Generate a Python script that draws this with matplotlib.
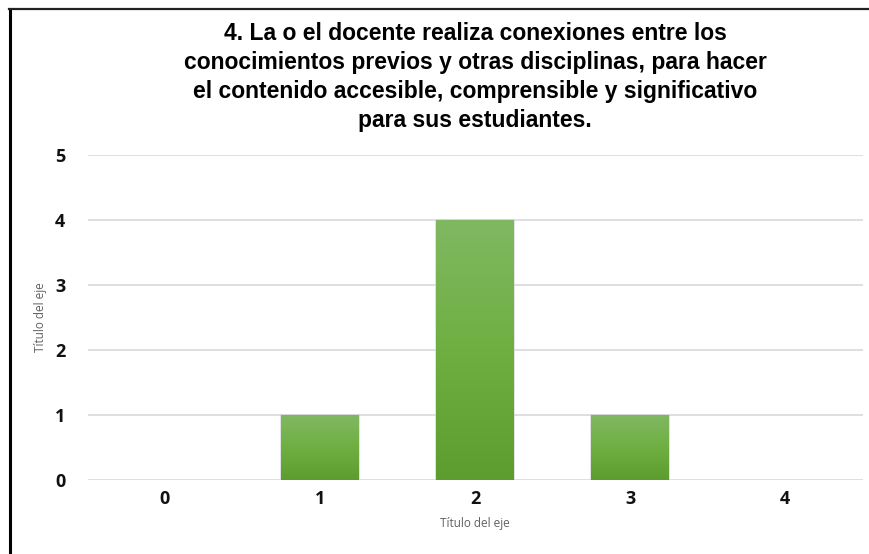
import matplotlib.pyplot as plt
import numpy as np
from matplotlib.lines import Line2D
from matplotlib.colors import LinearSegmentedColormap

plt.rcParams['font.family'] = ['Open Sans', 'DejaVu Sans']

categories = [0, 1, 2, 3, 4]
values = [0, 1, 4, 1, 0]
yticks = [0, 1, 2, 3, 4, 5]

title = ("4. La o el docente realiza conexiones entre los\n"
         "conocimientos previos y otras disciplinas, para hacer\n"
         "el contenido accesible, comprensible y significativo\n"
         "para sus estudiantes.")

fig = plt.figure(figsize=(8.69, 5.54), dpi=100)
ax = fig.add_axes([87.5 / 869, 1 - 480 / 554, 775 / 869, 325 / 554])

green = LinearSegmentedColormap.from_list('g', ['#5d9c2f', '#6faf41', '#80b862'])
grad = np.linspace(0, 1, 256).reshape(-1, 1)

bars = ax.bar(categories, values, width=0.5, color='none', edgecolor='none', zorder=3)
for b in bars:
    if b.get_height() <= 0:
        continue
    x0, w, h = b.get_x(), b.get_width(), b.get_height()
    # faint glow round the bar
    ax.bar(x0 + w / 2, h + 0.02, width=w + 0.016, color='#d0d0d0', zorder=2, alpha=0.6)
    im = ax.imshow(grad, extent=[x0, x0 + w, 0, h], origin='lower', cmap=green,
                   aspect='auto', zorder=3)
    im.set_clip_path(b)

ax.set_xlim(-0.5, 4.5)
ax.set_ylim(0, 5)
ax.set_xticks(categories)
ax.set_xticklabels([str(c) for c in categories], fontsize=13, fontweight='bold', color='#111111')
ax.set_yticks(yticks)
ax.set_yticklabels([str(t) for t in yticks], fontsize=13, fontweight='bold', color='#111111')
ax.yaxis.grid(True, color='#d9d9d9', linewidth=1.2, zorder=0)
ax.set_axisbelow(True)
for s in ax.spines.values():
    s.set_visible(False)
ax.tick_params(length=0)
ax.tick_params(axis='y', pad=16)
ax.tick_params(axis='x', pad=7)

ax.set_xlabel('Título del eje', fontsize=8.5, color='#606060', labelpad=7)
ax.set_ylabel('Título del eje', fontsize=8.5, color='#606060', labelpad=6)

fig.text(475 / 869, 1 - 22 / 554, title, ha='center', va='top', fontsize=16.5,
         fontweight='bold', linespacing=1.33,
         family=['Liberation Sans', 'DejaVu Sans'])

# outer frame (top and left visible)
fig.add_artist(Line2D([9.5 / 869, 9.5 / 869], [0, 1 - 8.5 / 554], transform=fig.transFigure,
                      color='black', linewidth=2.2))
fig.add_artist(Line2D([8.5 / 869, 1], [1 - 9 / 554, 1 - 9 / 554], transform=fig.transFigure,
                      color='#222222', linewidth=1.6))

fig.savefig('out.png', dpi=100)
